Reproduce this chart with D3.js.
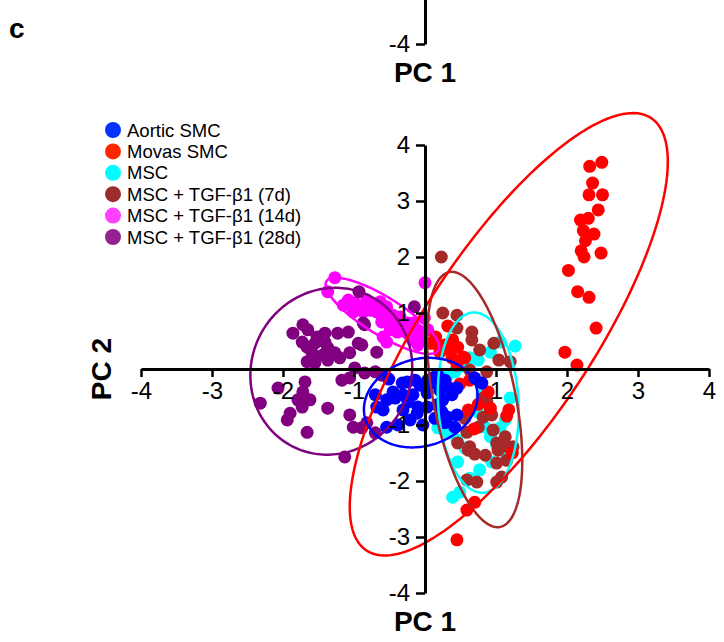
<!DOCTYPE html>
<html><head><meta charset="utf-8">
<script src="https://cdn.jsdelivr.net/npm/d3@7"></script>
<style>
html,body{margin:0;padding:0;background:#fff;}
svg{display:block;font-family:"Liberation Sans",Arial,Helvetica,sans-serif;}
</style></head><body>
<svg id="chart" width="724" height="642"></svg>
<script>
// Sample groups (legend order)
const groups = ["Aortic SMC", "Movas SMC", "MSC", "MSC + TGF-β1 (7d)", "MSC + TGF-β1 (14d)", "MSC + TGF-β1 (28d)"];
const tickValues = [-4, -3, -2, -1, 1, 2, 3, 4];

// PCA scores [PC1, PC2] per sample
const aorticSMC = [[-0.51,-0.18],[-0.32,-0.25],[-0.25,-0.23],[-0.14,-0.20],[-0.07,-0.29],[-0.45,-0.41],[-0.42,-0.52],[-0.54,-0.55],[-0.68,-0.68],[-0.59,-0.73],[-0.31,-0.46],[-0.24,-0.59],[-0.17,-0.46],[-0.10,-0.68],[-0.31,-0.73],[-0.21,-0.91],[-0.11,-0.79],[0.03,-0.68],[0.14,-0.14],[0.18,-0.11],[0.11,-0.25],[0.28,-0.20],[0.32,-0.32],[0.21,-0.38],[0.38,-0.46],[0.45,-0.34],[0.25,-0.55],[0.17,-0.64],[0.24,-0.77],[0.32,-0.86],[0.45,-0.82],[0.42,-1.04],[0.28,-0.96],[0.14,-0.88],[0.03,-0.43],[0.04,-0.20],[0.70,-0.16],[0.80,-0.25],[-0.03,-1.00],[-0.38,-1.00],[-0.54,-1.04],[-0.70,-0.46]];
const movasSMC = [[2.49,3.69],[2.32,3.62],[2.36,3.32],[2.31,3.11],[2.50,3.11],[2.44,2.84],[2.19,2.66],[2.30,2.69],[2.23,2.47],[2.38,2.41],[2.26,2.29],[2.20,2.11],[2.24,2.00],[2.48,2.07],[2.02,1.76],[2.15,1.38],[2.31,1.28],[2.41,0.73],[1.97,0.30],[2.14,0.07],[0.32,0.77],[0.15,0.57],[0.11,0.46],[0.39,0.52],[0.46,0.39],[0.35,0.34],[0.54,0.21],[0.38,0.20],[0.45,0.07],[0.28,0.43],[0.56,0.20],[0.49,-0.27],[0.63,-0.20],[0.75,-0.63],[0.61,-0.73],[0.92,-0.70],[1.18,-0.73],[1.15,-0.84],[0.69,-1.07],[1.23,-1.50],[0.70,-2.38],[0.59,-2.52],[0.45,-3.05],[0.89,-0.41],[0.07,0.46],[0.21,0.30]];
const msc = [[1.27,0.41],[1.06,0.48],[0.92,0.30],[0.75,0.16],[0.63,0.20],[0.52,0.05],[0.42,-0.05],[0.31,-0.14],[0.23,-0.38],[0.21,-0.64],[0.24,-0.88],[0.18,-1.05],[0.31,-1.13],[0.45,-1.27],[0.56,-1.41],[0.46,-1.66],[0.85,-1.04],[1.06,-1.05],[0.92,-1.21],[1.01,-1.36],[1.13,-1.48],[0.94,-1.66],[0.77,-1.80],[0.63,-1.95],[0.39,-2.29],[0.49,-2.20],[0.80,-0.46],[0.75,-0.77],[1.13,-0.91],[1.20,-0.52]];
const mscTgf7d = [[0.23,2.00],[0.25,1.00],[0.45,0.96],[0.45,0.73],[0.66,0.66],[0.66,0.52],[0.77,0.34],[0.97,0.46],[1.04,0.16],[1.20,0.13],[0.87,-0.05],[0.63,-0.02],[0.82,-0.52],[0.87,-0.59],[0.82,-0.86],[0.94,-0.82],[0.56,-0.88],[0.59,-1.13],[0.75,-1.04],[0.96,-1.09],[1.13,-1.21],[1.24,-1.39],[1.01,-1.32],[0.46,-1.32],[0.61,-1.45],[0.70,-1.52],[0.85,-1.54],[1.03,-1.45],[1.17,-1.39],[1.15,-1.63],[1.01,-1.68],[0.59,-1.98],[0.73,-2.02],[1.01,-2.02],[1.08,-1.93],[0.63,-1.39]];
const mscTgf14d = [[-1.27,1.63],[-1.37,1.38],[-1.08,1.23],[-1.15,1.14],[-0.99,1.18],[-0.82,1.23],[-0.75,1.14],[-0.63,1.20],[-0.54,1.11],[-0.68,1.02],[-0.87,1.02],[-1.01,1.02],[-0.56,0.96],[-0.45,0.96],[-0.35,0.93],[-0.46,0.82],[-0.61,0.84],[-0.25,0.82],[-0.35,0.75],[-0.17,0.82],[-0.11,0.70],[-0.25,0.64],[-0.39,0.66],[-0.49,0.70],[-0.59,0.57],[-0.07,0.55],[-0.18,0.52],[-0.10,0.43],[0.00,1.54],[-0.54,0.48],[-0.01,0.91],[0.04,0.70],[-0.77,1.05],[-0.94,1.12]];
const mscTgf28d = [[-1.72,0.79],[-1.86,0.64],[-1.65,0.70],[-1.52,0.57],[-1.41,0.64],[-1.23,0.64],[-1.08,0.66],[-1.73,0.48],[-1.66,0.39],[-1.55,0.46],[-1.41,0.48],[-1.37,0.38],[-1.27,0.29],[-1.44,0.25],[-1.59,0.29],[-1.66,0.13],[-1.55,0.11],[-1.37,0.16],[-1.20,0.20],[-0.94,0.46],[-1.06,0.29],[-0.87,0.82],[-0.68,0.30],[-0.99,0.02],[-1.17,-0.20],[-1.06,-0.16],[-0.85,-0.07],[-0.70,-0.05],[-0.61,-0.11],[-1.69,-0.23],[-2.07,-0.34],[-1.72,-0.41],[-1.79,-0.55],[-1.62,-0.55],[-1.73,-0.68],[-1.90,-0.79],[-1.94,-0.91],[-1.37,-0.70],[-1.06,-0.82],[-1.01,-1.04],[-0.89,-1.05],[-0.70,-1.14],[-2.32,-0.61],[-1.66,-1.13],[-1.13,-1.57],[-0.93,1.38],[-0.85,0.79],[-0.15,1.11],[-0.82,-0.96],[-0.89,0.43]];
const groupScores = [aorticSMC, movasSMC, msc, mscTgf7d, mscTgf14d, mscTgf28d];

// Confidence ellipses per group: [centre PC1, centre PC2, spread PC1, spread PC2, correlation]
const ellipses = [
  [-0.06, -0.60, 0.80, 0.80, 0.15],
  [ 1.18,  0.62, 2.24, 3.95, 0.78],
  [ 0.75, -0.60, 0.57, 1.61, -0.10],
  [ 0.70, -0.545, 0.67, 2.28, -0.48],
  [-0.60,  0.95, 0.80, 0.68, -0.82],
  [-1.32, -0.04, 1.14, 1.49, 0.05]
];

const pointColors  = ["#0000ff", "#ff0000", "#00ffff", "#a52a2a", "#ff00ff", "#800080"];
const legendColors = ["#0433ff", "#ff2600", "#00fdff", "#9c2d2d", "#ff40ff", "#942192"];
const drawOrder = [2, 4, 5, 3, 1, 0];

const svg = d3.select("#chart");
const x = d3.scaleLinear().domain([-4, 4]).range([141, 709]);
const y = d3.scaleLinear().domain([-4, 4]).range([593, 145]);
const fmt = d => String(d);

// points
const pts = svg.append("g");
drawOrder.forEach(gi => {
  pts.append("g").selectAll("circle").data(groupScores[gi]).join("circle")
    .attr("cx", d => x(d[0])).attr("cy", d => y(d[1])).attr("r", 6.5)
    .attr("fill", pointColors[gi]);
});

// ellipses
const line = d3.line().curve(d3.curveLinearClosed);
const ell = svg.append("g").attr("fill", "none").attr("stroke-width", 2.5);
drawOrder.forEach(gi => {
  const [cx, cy, sx, sy, r] = ellipses[gi];
  const s = Math.sqrt(1 - r * r);
  const path = d3.range(0, 360, 2).map(a => {
    const t = a * Math.PI / 180;
    return [x(cx + sx * Math.cos(t)), y(cy + sy * (r * Math.cos(t) + s * Math.sin(t)))];
  });
  ell.append("path").attr("d", line(path)).attr("stroke", pointColors[gi]);
});

// axes
function styleAxis(g) {
  g.select(".domain").attr("stroke-width", 3);
  g.selectAll(".tick line").attr("stroke-width", 2.5);
  g.selectAll(".tick text").attr("font-size", 24).attr("fill", "#000")
    .attr("font-family", '"Liberation Sans",Arial,sans-serif');
}
svg.append("g").attr("transform", `translate(0,${y(0)})`)
  .call(d3.axisBottom(x).tickValues(tickValues).tickFormat(fmt).tickSize(8).tickSizeOuter(0).tickPadding(5))
  .call(styleAxis);
svg.append("g").attr("transform", `translate(${x(0)},0)`)
  .call(d3.axisLeft(y).tickValues(tickValues).tickFormat(fmt).tickSize(9).tickSizeOuter(0).tickPadding(6))
  .call(styleAxis);

// lower end of the panel above
const yAbove = d3.scaleLinear().domain([-4, 4]).range([593 - 549, 145 - 549]);
svg.append("g").attr("transform", `translate(${x(0)},0)`)
  .call(d3.axisLeft(yAbove).tickValues([-4]).tickFormat(fmt).tickSize(9).tickSizeOuter(0).tickPadding(6))
  .call(styleAxis);

// axis titles
const title = {"font-size": 28, "font-weight": "bold", "text-anchor": "middle"};
function applyAttrs(sel, o) { Object.entries(o).forEach(([k, v]) => sel.attr(k, v)); return sel; }
applyAttrs(svg.append("text").attr("x", x(0)).attr("y", 631).text("PC 1"), title);
applyAttrs(svg.append("text").attr("x", x(0)).attr("y", 82).text("PC 1"), title);
applyAttrs(svg.append("text").attr("transform", `translate(111,${y(0)}) rotate(-90)`).text("PC 2"), title);
svg.append("text").attr("x", 9).attr("y", 38).attr("font-size", 28).attr("font-weight", "bold").text("c");

// legend
const legend = svg.append("g").attr("transform", "translate(113,130)");
groups.forEach((name, i) => {
  const row = legend.append("g").attr("transform", `translate(0,${i * 21.4})`);
  row.append("circle").attr("r", 8).attr("fill", legendColors[i]);
  row.append("text").attr("x", 14).attr("y", 6.5).attr("font-size", 18.5).attr("fill", "#000").text(name);
});
</script>
</body></html>
